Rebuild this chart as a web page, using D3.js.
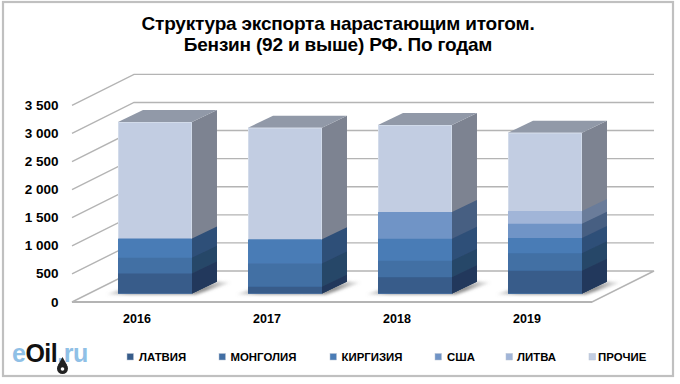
<!DOCTYPE html>
<html><head><meta charset="utf-8">
<script src="https://cdn.jsdelivr.net/npm/d3@7"></script>
<style>
html,body{margin:0;padding:0;background:#fff}
svg{display:block}
text{font-family:"Liberation Sans",Arial,sans-serif;font-weight:700;fill:#000}
</style></head><body>
<svg id="c" width="680" height="384"></svg>
<script>
const categories = ["2016","2017","2018","2019"];
const seriesNames = ["ЛАТВИЯ","МОНГОЛИЯ","КИРГИЗИЯ","США","ЛИТВА","ПРОЧИЕ"];
const latvia   = [356,117,285,402];
const mongolia = [277,416,295,310];
const kirgizia = [345,428,391,272];
const usa      = [0,0,476,254];
const litva    = [0,0,0,226];
const prochie  = [2070,1986,1548,1394];
const seriesValues = [latvia,mongolia,kirgizia,usa,litva,prochie];
const yTicks = [0,500,1000,1500,2000,2500,3000,3500];
const frontColors = ["#375c8a","#426fa4","#4a7cb6","#7094c6","#a1b5d8","#c2cde2"];
const sideColors  = ["#24395b","#284668","#2f4f78","#475e82","#6a7c9a","#7d8391"];
const titleLines = ["Структура экспорта нарастающим итогом.","Бензин (92 и выше) РФ. По годам"];
const legendX = [127,219,330,435,506,589];
const legendTextX = [139,230.5,341.5,447,517,598];

const svg = d3.select("#c");
const defs = svg.append("defs");
const blur = defs.append("filter").attr("id","shadowBlur").attr("x","-30%").attr("y","-60%").attr("width","160%").attr("height","220%");
blur.append("feGaussianBlur").attr("stdDeviation",1.6);
const soft = defs.append("filter").attr("id","soft");
soft.append("feGaussianBlur").attr("stdDeviation",0.35);
const fade = defs.append("linearGradient").attr("id","fade").attr("x1",0).attr("x2",1).attr("y1",0).attr("y2",0);
fade.append("stop").attr("offset",0).attr("stop-color","#777").attr("stop-opacity",0.1);
fade.append("stop").attr("offset",0.18).attr("stop-color","#777").attr("stop-opacity",0.75);
fade.append("stop").attr("offset",0.8).attr("stop-color","#777").attr("stop-opacity",0.8);
fade.append("stop").attr("offset",1).attr("stop-color","#777").attr("stop-opacity",0.05);

// frame
svg.append("rect").attr("x",3).attr("y",2).attr("width",670).attr("height",374)
  .attr("fill","#fff").attr("stroke","#c0c0c0").attr("stroke-width",2.2);

const floorLeft = 72, floorRight = 592, wallDx = 62, wallDy = 31;
const grid = "#b4b4b4";
const x = d3.scaleBand().domain(categories).range([floorLeft,floorRight]).paddingInner(0.431).paddingOuter(0.2155);
const yFront = d3.scaleLinear().domain([0,3500]).range([302,105.4]);
const yBack  = v => yFront(v) - wallDy;
const yBar   = d3.scaleLinear().domain([0,3500]).range([293.4,96.6]);
const barDx = 18, sideDx = 25, sideDy = 12;
const fmt = d3.formatLocale({decimal:",",thousands:"\u00a0",grouping:[3],currency:["",""]}).format(",d");

// wall grid
const gridG = svg.append("g").attr("fill","none").attr("stroke",grid).attr("stroke-width",1.4);
gridG.selectAll("path").data(yTicks.slice(1)).join("path")
  .attr("d",v=>`M${floorLeft},${yFront(v)}L${floorLeft+wallDx},${yBack(v)}L${floorRight+wallDx},${yBack(v)}`);
// floor
svg.append("path").attr("fill","#fff").attr("stroke",grid).attr("stroke-width",1.4)
  .attr("d",`M${floorLeft},${yFront(0)}L${floorLeft+wallDx},${yBack(0)}L${floorRight+wallDx},${yBack(0)}L${floorRight},${yFront(0)}Z`);
svg.append("line").attr("x1",floorLeft).attr("x2",floorRight).attr("y1",yFront(0)).attr("y2",yFront(0))
  .attr("stroke",grid).attr("stroke-width",2);

// axis labels
svg.append("g").selectAll("text").data(yTicks).join("text")
  .attr("x",58.5).attr("y",v=>yFront(v)+4.5).attr("text-anchor","end")
  .attr("font-size",13.5).text(fmt);
svg.append("g").selectAll("text").data(categories).join("text")
  .attr("x",c=>x(c)+x.bandwidth()/2).attr("y",322.7).attr("text-anchor","middle")
  .attr("font-size",12.5).text(c=>c);

// bars
const rows = categories.map((c,i)=>{const r={c}; seriesNames.forEach((s,j)=>r[s]=seriesValues[j][i]); return r;});
const stacked = d3.stack().keys(seriesNames)(rows);
const bw = x.bandwidth();
const barG = svg.selectAll("g.bar").data(categories).join("g").attr("class","bar");
// floor shadow
barG.append("path").attr("fill","url(#fade)").attr("filter","url(#shadowBlur)")
  .attr("d",c=>{const l=x(c)+barDx,b=yBar(0);
    return `M${l-12},${b+1}L${l+bw+4},${b+1}L${l+bw+sideDx+14},${b-sideDy+1}L${l+bw+sideDx},${b-sideDy}L${l+bw},${b-4}L${l},${b-3}Z`;});
const solid = barG.append("g").attr("filter","url(#soft)");
// painted top layer first, each reaching down to the base, so no seams show between layers
stacked.slice().reverse().forEach(layer=>{
  const j = layer.index;
  solid.append("path").attr("fill",sideColors[j])
    .attr("d",(c,i)=>{const d=layer[i],r=x(c)+barDx+bw;
      return d[1]===d[0]?null:`M${r},${yBar(0)}L${r+sideDx},${yBar(0)-sideDy}L${r+sideDx},${yBar(d[1])-sideDy}L${r},${yBar(d[1])}Z`;});
  solid.append("path").attr("fill",frontColors[j])
    .attr("d",(c,i)=>{const d=layer[i],l=x(c)+barDx;
      return d[1]===d[0]?null:`M${l},${yBar(0)}H${l+bw}V${yBar(d[1])}H${l}Z`;});
});
// bar tops and light edges
const topLayer = stacked[stacked.length-1];
solid.append("path").attr("fill","#9199a8")
  .attr("d",(c,i)=>{const l=x(c)+barDx,t=yBar(topLayer[i][1]);
    return `M${l},${t}L${l+sideDx},${t-sideDy}H${l+bw+sideDx}L${l+bw},${t}Z`;});
barG.append("path").attr("fill","none").attr("stroke","#d6deec").attr("stroke-width",1).attr("opacity",0.8)
  .attr("d",(c,i)=>{const l=x(c)+barDx,t=yBar(topLayer[i][1]),b=yBar(topLayer[i][0]);
    return `M${l+0.5},${b}V${t+0.5}H${l+bw-0.5}V${b}`;});

// title
svg.append("g").selectAll("text").data(titleLines).join("text")
  .attr("x",338).attr("y",(d,i)=>30+i*20.6).attr("text-anchor","middle")
  .attr("font-size",19).attr("letter-spacing",-0.2).text(d=>d);

// legend
const lg = svg.append("g");
lg.selectAll("rect").data(seriesNames).join("rect")
  .attr("x",(d,i)=>legendX[i]).attr("y",353.5).attr("width",6.5).attr("height",6.5)
  .attr("fill",(d,i)=>frontColors[i]).attr("stroke","#b8c2d2").attr("stroke-width",0.5);
lg.selectAll("text").data(seriesNames).join("text")
  .attr("x",(d,i)=>legendTextX[i]).attr("y",360.5).attr("font-size",11.4).text(d=>d);

// logo
const logo = svg.append("text").attr("x",12).attr("y",361.5).attr("font-size",25).attr("letter-spacing",-0.5);
logo.append("tspan").style("fill","#8fc0e6").text("e");
logo.append("tspan").style("fill","#111").text("Oil");
logo.append("tspan").style("fill","#8fc0e6").text(".ru");
svg.append("path").attr("fill","#222")
  .attr("d",d3.arc()({innerRadius:0,outerRadius:5.5,startAngle:0,endAngle:2*Math.PI})).attr("transform","translate(62.5,368.5)");
svg.append("path").attr("fill","#222").attr("d","M62.5,357L58,365H67Z");
svg.append("circle").attr("cx",62.5).attr("cy",369).attr("r",1.8).attr("fill","#fff");
</script>
</body></html>
